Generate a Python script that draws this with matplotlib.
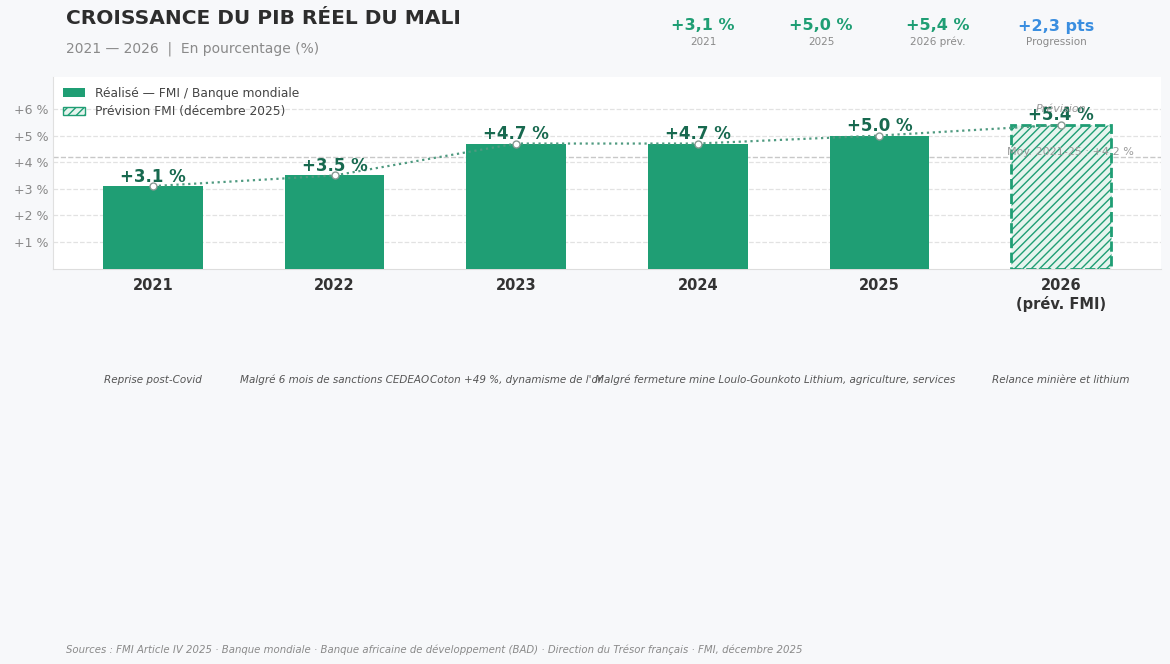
import matplotlib.pyplot as plt
import matplotlib.patches as mpatches
import numpy as np

years = ['2021', '2022', '2023', '2024', '2025', '2026\n(prév. FMI)']
growth = [3.1, 3.5, 4.7, 4.7, 5.0, 5.4]
notes = ['Reprise post-Covid', 'Malgré 6 mois de sanctions CEDEAO',
         "Coton +49 %, dynamisme de l'or", 'Malgré fermeture mine Loulo-Gounkoto',
         'Lithium, agriculture, services', 'Relance minière et lithium']
kpi_values = ['+3,1 %', '+5,0 %', '+5,4 %', '+2,3 pts']
kpi_labels = ['2021', '2025', '2026 prév.', 'Progression']
avg = np.mean(growth[:5])

green = '#1f9e74'
dark_green = '#17694f'
bg = '#f7f8fa'

plt.rcParams['font.family'] = ['DejaVu Sans']
fig = plt.figure(figsize=(11.7, 6.64), dpi=100, facecolor=bg)
ax = fig.add_axes([0.0453, 0.5955, 0.947, 0.2885])
ax.set_facecolor('white')

x = np.arange(len(years))
ax.bar(x[:5], growth[:5], width=0.55, color=green, zorder=3)
ax.bar(x[5], growth[5], width=0.55, facecolor='#e6f4ee', edgecolor=green,
       hatch='////', linestyle='--', linewidth=2, zorder=3)

ax.plot(x, growth, linestyle=':', color='#4f9a80', linewidth=1.6, zorder=4)
ax.plot(x, growth, 'o', markersize=5, markerfacecolor='white',
        markeredgecolor='#8a9a94', markeredgewidth=1, zorder=5)

for xi, v in zip(x, growth):
    ax.text(xi, v + 0.02, f'+{v:.1f} %', ha='center', va='bottom',
            fontsize=12, fontweight='bold', color=dark_green, zorder=6)

ax.axhline(avg, color='#c8c8c8', linestyle='--', linewidth=1, zorder=2)
ax.text(5.4, avg + 0.2, f'Moy. 2021-25 : +{avg:.1f} %', ha='right', va='center',
        fontsize=8, color='#999999', zorder=6)
ax.text(5.0, 6.0, 'Prévision', ha='center', va='center', fontsize=8,
        style='italic', color='#999999', zorder=6)

ax.set_xlim(-0.55, 5.55)
ax.set_ylim(0, 7.2)
ax.set_yticks([1, 2, 3, 4, 5, 6])
ax.set_yticklabels([f'+{i} %' for i in range(1, 7)], fontsize=9, color='#888888')
ax.set_xticks(x)
ax.set_xticklabels(years, fontsize=10.5, fontweight='bold', color='#333333')
ax.tick_params(axis='both', length=0)
ax.tick_params(axis='x', pad=7)
ax.grid(axis='y', linestyle='--', color='#e2e2e2', linewidth=0.9, zorder=0)
for s in ['top', 'right']:
    ax.spines[s].set_visible(False)
ax.spines['left'].set_color('#e0e0e0')
ax.spines['bottom'].set_color('#dddddd')

h1 = mpatches.Patch(facecolor=green, label='Réalisé — FMI / Banque mondiale')
h2 = mpatches.Patch(facecolor='#e6f4ee', edgecolor=green, hatch='////',
                    label='Prévision FMI (décembre 2025)')
ax.legend(handles=[h1, h2], loc='upper left', frameon=False, fontsize=8.8,
          labelcolor='#444444', handlelength=1.8, borderaxespad=0.4,
          labelspacing=0.45)

# notes under the axis
for xi, n in zip(x, notes):
    xf = ax.transData.transform((xi, 0))[0] / fig.bbox.width
    fig.text(xf, 1 - 380 / 664, n, ha='center', va='center', fontsize=7.5,
             style='italic', color='#555555')

fig.text(66 / 1170, 1 - 18 / 664, 'CROISSANCE DU PIB RÉEL DU MALI', fontsize=14.5,
         fontweight='bold', color='#2d2d2d', va='center')
fig.text(66 / 1170, 1 - 49 / 664, '2021 — 2026  |  En pourcentage (%)', fontsize=10,
         color='#8a8a8a', va='center')

kpi_x = [703, 821, 938, 1056]
kpi_colors = [green, green, green, '#3a8ee0']
for kx, kv, kl, kc in zip(kpi_x, kpi_values, kpi_labels, kpi_colors):
    fig.text(kx / 1170, 1 - 26 / 664, kv, ha='center', va='center', fontsize=11.5,
             fontweight='bold', color=kc)
    fig.text(kx / 1170, 1 - 42 / 664, kl, ha='center', va='center', fontsize=7.5,
             color='#8a8a8a')

fig.text(66 / 1170, 1 - 650 / 664,
         'Sources : FMI Article IV 2025 · Banque mondiale · Banque africaine de développement (BAD)'
         ' · Direction du Trésor français · FMI, décembre 2025',
         fontsize=7.3, style='italic', color='#8a8a8a', va='center')

fig.savefig('out.png', dpi=100, facecolor=bg)
